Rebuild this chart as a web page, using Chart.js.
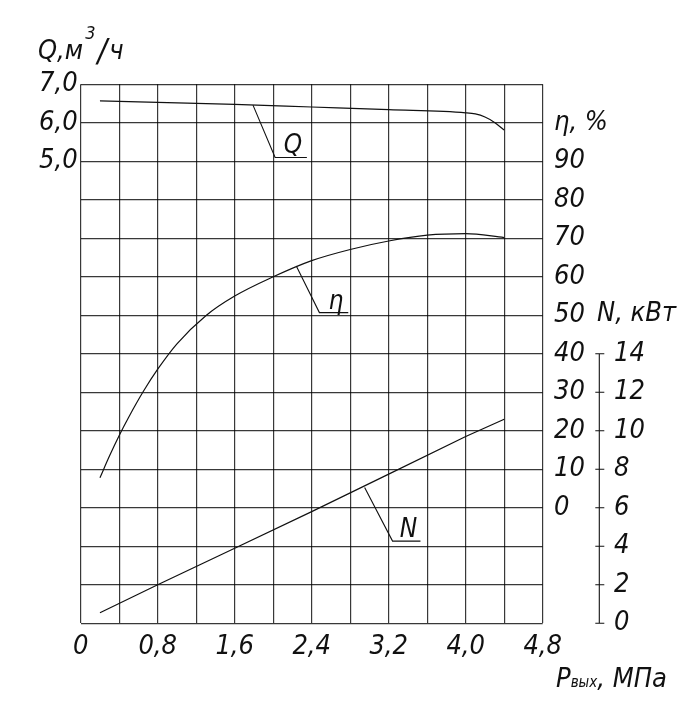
<!DOCTYPE html>
<html>
<head>
<meta charset="utf-8">
<script src="https://cdn.jsdelivr.net/npm/chart.js@4.4.0/dist/chart.umd.min.js"></script>
<style>
  body { margin: 0; background: #fff; }
  #wrap { width: 690px; height: 716px; }
</style>
</head>
<body>
<div id="wrap"><canvas id="myChart" width="690" height="716"></canvas></div>
<script>
// pressure, MPa
const pressureQ = [0.2, 0.8, 1.6, 2.4, 3.2, 4.0, 4.1, 4.2, 4.3, 4.4];
const flowQ = [6.57, 6.53, 6.48, 6.41, 6.34, 6.26, 6.23, 6.15, 6.01, 5.81];

const pressureEta = [0.2, 0.3, 0.4, 0.5, 0.65, 0.8, 1.0, 1.3, 1.6, 2.0, 2.4, 2.8, 3.2, 3.6, 4.0, 4.4];
const efficiency = [7.8, 13.5, 18.8, 23.6, 30.2, 36, 42.6, 49.9, 55, 60, 64.2, 67.1, 69.3, 70.8, 71.2, 70.2];

const pressureN = [0.2, 0.8, 1.6, 2.4, 3.2, 4.0, 4.4];
const power = [0.55, 2.0, 3.9, 5.8, 7.75, 9.7, 10.6];

const qTicks = [5, 6, 7];
const etaTicks = [0, 10, 20, 30, 40, 50, 60, 70, 80, 90];
const nTicks = [0, 2, 4, 6, 8, 10, 12, 14];

const FONT = "'Liberation Sans Narrow', 'DejaVu Sans Condensed', sans-serif";
const FS = 27;
const INK = '#111';
const GRID = 'rgba(0,0,0,0.78)';

const toPoints = (xs, ys) => xs.map((x, i) => ({ x: x, y: ys[i] }));
const comma = v => v.toFixed(1).replace('.', ',');
const tickFont = { family: FONT, size: FS, style: 'italic' };

// leader lines to the curve names: [anchor on curve, elbow, end of underline]
const leaders = [
  { text: 'Q', axis: 'yQ', pts: [[1.79, 6.46], [2.02, 5.1], [2.35, 5.1]] },
  { text: 'η', axis: 'yEta', pts: [[2.24, 62.8], [2.48, 50.7], [2.78, 50.7]] },
  { text: 'N', axis: 'yN', pts: [[2.95, 7.06], [3.24, 4.27], [3.53, 4.27]] },
];

const extras = {
  id: 'extras',
  afterDraw(chart) {
    const ctx = chart.ctx;
    const sx = chart.scales.x;
    const yN = chart.scales.yN;
    ctx.save();
    ctx.strokeStyle = INK;
    ctx.fillStyle = INK;
    ctx.lineWidth = 1.1;

    // N axis with its own short spine
    const ax = yN.left;
    ctx.beginPath();
    ctx.moveTo(ax, yN.getPixelForValue(0));
    ctx.lineTo(ax, yN.getPixelForValue(14));
    nTicks.forEach(v => {
      const py = yN.getPixelForValue(v);
      ctx.moveTo(ax - 4, py);
      ctx.lineTo(ax + 5, py);
    });
    ctx.stroke();

    // leaders
    ctx.font = 'italic 26px ' + FONT;
    ctx.textAlign = 'center';
    ctx.textBaseline = 'alphabetic';
    leaders.forEach(l => {
      const ys = chart.scales[l.axis];
      const p = l.pts.map(q => [sx.getPixelForValue(q[0]), ys.getPixelForValue(q[1])]);
      ctx.beginPath();
      ctx.moveTo(p[0][0], p[0][1]);
      ctx.lineTo(p[1][0], p[1][1]);
      ctx.lineTo(p[2][0], p[2][1]);
      ctx.stroke();
      ctx.fillText(l.text, (p[1][0] + p[2][0]) / 2 + 2, p[1][1] - 4);
    });

    // axis titles
    ctx.textAlign = 'left';
    ctx.font = 'italic ' + FS + 'px ' + FONT;
    ctx.fillText('Q,м', 38, 59);
    let qx = 38 + ctx.measureText('Q,м').width + 2;
    ctx.font = 'italic 18px ' + FONT;
    ctx.fillText('3', qx, 39);
    qx += ctx.measureText('3').width + 2;
    ctx.font = 'italic 32px ' + FONT;
    ctx.fillText('/', qx, 61);
    qx += ctx.measureText('/').width + 2;
    ctx.font = 'italic ' + FS + 'px ' + FONT;
    ctx.fillText('ч', qx, 59);

    ctx.textBaseline = 'middle';
    ctx.fillText('η, %', 554, 123);
    ctx.fillText('N, кВт', 597, 314);

    ctx.textBaseline = 'alphabetic';
    ctx.fillText('P', 556, 687);
    let px = 556 + ctx.measureText('P').width;
    ctx.font = 'italic 15px ' + FONT;
    ctx.fillText('вых', px, 687);
    px += ctx.measureText('вых').width;
    ctx.font = 'italic ' + FS + 'px ' + FONT;
    ctx.fillText(', МПа', px, 687);
    ctx.restore();
  }
};

new Chart(document.getElementById('myChart'), {
  type: 'line',
  data: {
    datasets: [
      {
        label: 'Q',
        data: toPoints(pressureQ, flowQ),
        yAxisID: 'yQ',
        borderColor: INK,
        borderWidth: 1.2,
        pointRadius: 0,
        cubicInterpolationMode: 'monotone',
      },
      {
        label: 'η',
        data: toPoints(pressureEta, efficiency),
        yAxisID: 'yEta',
        borderColor: INK,
        borderWidth: 1.2,
        pointRadius: 0,
        cubicInterpolationMode: 'monotone',
      },
      {
        label: 'N',
        data: toPoints(pressureN, power),
        yAxisID: 'yN',
        borderColor: INK,
        borderWidth: 1.2,
        pointRadius: 0,
      },
    ],
  },
  options: {
    responsive: false,
    animation: false,
    layout: { padding: { top: 84.3, left: 0, right: 0, bottom: 0 } },
    plugins: { legend: { display: false }, tooltip: { enabled: false } },
    scales: {
      x: {
        type: 'linear',
        min: 0,
        max: 4.8,
        afterFit: s => { s.height = 92.7; },
        grid: { color: GRID, lineWidth: 1.2, drawTicks: false },
        border: { display: false },
        ticks: {
          stepSize: 0.4,
          autoSkip: false,
          maxRotation: 0,
          padding: 7,
          color: INK,
          font: tickFont,
          callback: v => {
            const k = Math.round(v * 10);
            if (k % 8 !== 0) return '';
            return k === 0 ? '0' : comma(k / 10);
          },
        },
      },
      yQ: {
        position: 'left',
        min: -7,
        max: 7,
        afterFit: s => { s.width = 80.7; },
        grid: { color: GRID, lineWidth: 1.2, drawTicks: false },
        border: { display: false },
        ticks: {
          stepSize: 1,
          autoSkip: false,
          padding: 3,
          color: INK,
          font: tickFont,
          callback: v => qTicks.includes(v) ? comma(v) : '',
        },
      },
      yEta: {
        position: 'right',
        weight: 1,
        min: -30,
        max: 110,
        afterFit: s => { s.width = 56.6; },
        grid: { display: false, drawTicks: false },
        border: { display: false },
        ticks: {
          stepSize: 10,
          autoSkip: false,
          padding: 11.3,
          color: INK,
          font: tickFont,
          callback: v => etaTicks.includes(v) ? String(v) : '',
        },
      },
      yN: {
        position: 'right',
        weight: 2,
        min: 0,
        max: 28,
        afterFit: s => { s.width = 90.7; },
        grid: { display: false, drawTicks: false },
        border: { display: false },
        ticks: {
          stepSize: 2,
          autoSkip: false,
          padding: 14.7,
          color: INK,
          font: tickFont,
          callback: v => nTicks.includes(v) ? String(v) : '',
        },
      },
    },
  },
  plugins: [extras],
});
</script>
</body>
</html>
